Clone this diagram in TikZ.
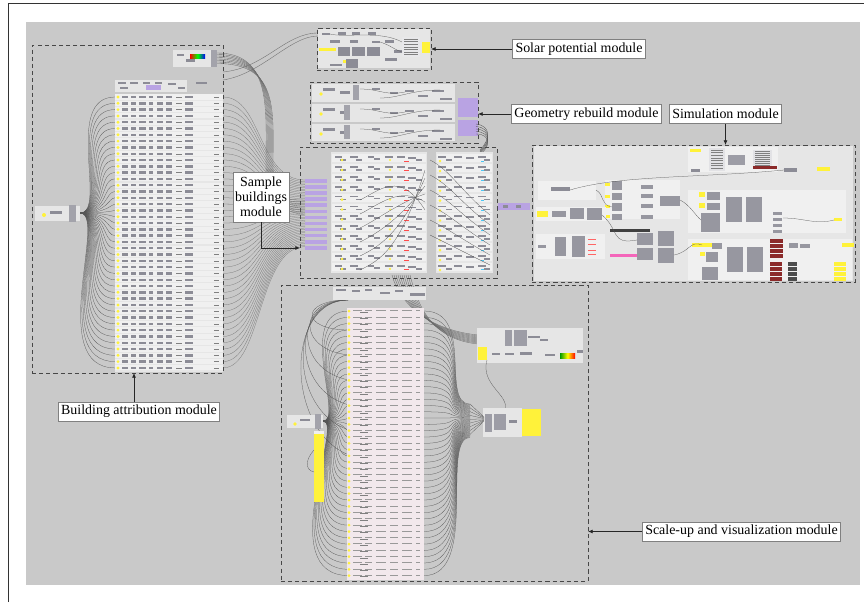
\documentclass[tikz,border=0pt]{standalone}
\usepackage{fontspec}
\setmainfont{Liberation Serif}
\usetikzlibrary{arrows.meta}
\newlength\pxu \setlength\pxu{0.03cm}
\definecolor{cv}{HTML}{C9C9C9}
\definecolor{pnl}{HTML}{E6E6E6}
\definecolor{pnlw}{HTML}{F0F0F0}
\definecolor{cmp}{HTML}{8C8C96}
\definecolor{pur}{HTML}{B9A3E3}
\definecolor{yel}{HTML}{FFF23A}
\definecolor{pink}{HTML}{F2E8EC}
\definecolor{wirec}{HTML}{555555}
\definecolor{dred}{HTML}{8B2A2A}
\definecolor{frm}{HTML}{333333}
\begin{document}
\begin{tikzpicture}[x=0.03cm,y=-0.03cm,
  panel/.style={fill=pnl},
  wpanel/.style={fill=pnlw},
  comp/.style={fill=cmp},
  wire/.style={draw=wirec,line width=0.22pt},
  bund/.style={draw=gray!85!black,line width=0.3pt},
  modbox/.style={draw=black!72,line width=0.8pt,dash pattern=on 3.5pt off 2.6pt,inner sep=0pt,outer sep=0pt},
  lbl/.style={draw=black!50,fill=white,line width=0.6pt,inner xsep=3\pxu,inner ysep=0pt,minimum height=19\pxu,
     font=\fontsize{11.9}{12.8}\selectfont,align=center},
  arr/.style={draw=black!85,line width=0.6pt,-{Latex[length=4pt,width=3.4pt]}}]
\useasboundingbox (0,0) rectangle (864,602);
\fill[white] (0,0) rectangle (864,602);
\draw[frm,line width=1.6pt] (8.5,602) -- (8.5,3.5) -- (864,3.5);
\fill[cv] (26,22) rectangle (860,585);

% ---------------- building attribution content
\foreach \k in {0,...,43}{
  \pgfmathsetmacro\y{97+6.3*\k}
  \pgfmathsetmacro\cx{115-0.45*abs(\y-213)}
  \draw[wire] (80,213) .. controls (108,213) and (\cx,\y) .. (115,\y);
  \pgfmathsetmacro\yt{180+1.55*\k}
  \draw[wire,draw=wirec!80] (223,\y) .. controls (262,\y) and (258,\yt) .. (305,\yt);
}
\fill[panel] (115,80) rectangle (187,92);
\foreach \a/\b/\c/\d in {118/82/126/84,130/82/138/84,143/82/150/84,155/82/162/84,168/83/176/85,120/87/128/89,148/86/160/90,178/87/185/89}{\fill[comp] (\a,\b) rectangle (\c,\d);}
\fill[pur] (146,85) rectangle (161,90);
\fill[comp] (196,82) rectangle (207,84);
\fill[panel] (115,94) rectangle (223,372);
\foreach \k in {0,...,43}{
  \pgfmathsetmacro\y{97+6.3*\k}
  \fill[pnlw] (115,\y-2.7) rectangle (223,\y+2.5);
  \fill[yel] (118,\y) circle (1.6);
  \foreach \a/\b in {122/128,131/136,139/146,149/153,157/163,166/172,185/193}{\fill[comp] (\a,\y-1.2) rectangle (\b,\y+1.2);}
  \draw[gray,line width=0.3pt] (176,\y) -- (182,\y) (214,\y) -- (219,\y);
}
% palette component
\fill[pnl] (173,50) rectangle (217,67);
\fill[comp] (177,54) rectangle (184,56);
\fill[comp] (186,59) rectangle (195,62);
\shade[left color=red,right color=blue,middle color=green] (190,54) rectangle (205,58);
\fill[cmp!80] (211,50) rectangle (217,67);
% left input
\fill[pnl] (35,206) rectangle (80,221);
\fill[yel] (44,215) circle (2);
\fill[comp] (50,211) rectangle (62,214);
\fill[cmp!80] (69,205) rectangle (76,222);

% bundle from palette to sample buildings
\foreach \k in {0,...,7}{
  \draw[bund] (217,53+1.5*\k) .. controls (272+\k,53+1.5*\k) and (266+\k,110) .. (266+\k,165)
     .. controls (266+\k,200) and (282,200+2*\k) .. (305,200+2*\k);
}
\draw[bund] (318,33) .. controls (285,33) and (265,68) .. (223,72);
\draw[bund] (318,36) .. controls (290,36) and (262,74) .. (223,80);

% ---------------- solar potential content
\fill[pnl] (318,29) rectangle (430,68);
\foreach \a/\b/\c/\d in {322/33/330/35,338/32/346/35,352/32/360/35,368/32/376/35,330/40/340/43,350/40/358/43,372/41/380/43,385/40/394/43,394/50/402/53,338/47/350/56,352/47/365/56,367/47/380/56,346/59/358/68,330/64/342/66,385/58/397/61}{\fill[comp] (\a,\b) rectangle (\c,\d);}
\fill[yel] (319,48) rectangle (336,50.5);
\fill[yel] (343,60) rectangle (346,63);
\fill[white!80!cmp] (402,37) rectangle (420,57);
\foreach \k in {0,...,6}{\draw[gray,line width=0.25pt] (404,39+2.6*\k) -- (418,39+2.6*\k);}
\fill[yel] (422,42) rectangle (430,53);
\draw[wire] (330,34) .. controls (345,38) and (380,30) .. (402,42);
\draw[wire] (380,42) .. controls (390,45) and (395,50) .. (402,52);

% ---------------- geometry rebuild content
\foreach \t/\b/\tb in {84/102/353,104/122/344,124/141/344}{
  \fill[panel] (312,\t) rectangle (455,\b);
  \fill[yel] (321,\t+10) circle (1.8);
  \fill[comp] (323,\t+4) rectangle (335,\t+7);
  \fill[comp] (340,\t+7) rectangle (350,\t+10);
  \fill[cmp!80] (\tb,\t+1) rectangle (\tb+6,\b-2);
  \foreach \a/\c/\o in {372/380/4,390/398/8,405/414/6,418/428/11,432/444/6,440/452/14}{\fill[comp] (\a,\t+\o) rectangle (\c,\t+\o+2);}
  \draw[wire] (360,\t+5) .. controls (380,\t+5) and (385,\t+12) .. (405,\t+8);
  \draw[wire] (380,\t+14) .. controls (400,\t+14) and (410,\t+6) .. (440,\t+6);
}
\fill[pur] (458,98) rectangle (478,117);
\fill[pur] (458,120) rectangle (478,136);
\foreach \k in {0,...,4}{\draw[wirec,line width=0.3pt] (476,124+2.5*\k) .. controls (492,126+2*\k) and (490,140+2*\k) .. (480,150+\k);}

% ---------------- sample buildings content
\fill[panel] (331,152) rectangle (427,273);
\fill[panel] (436,152) rectangle (493,273);
\foreach \k in {0,...,11}{
  \pgfmathsetmacro\y{156+9.9*\k}
  \fill[pnlw] (332,\y-2) rectangle (426,\y+6);
  \fill[pnlw] (437,\y-2) rectangle (492,\y+6);
  \foreach \a/\c/\o in {335/342/0,340/346/3,350/358/0,356/362/3,368/374/0,374/380/2,385/393/0,397/405/0,408/416/1,416/422/3,438/446/0,446/452/3,454/462/0,466/474/1,478/486/0,484/490/3}{\fill[comp] (\a,\y+\o) rectangle (\c,\y+\o+1.8);}
  \fill[yel] (342,\y+4) circle (1.4);
  \fill[yel] (390,\y+4) circle (1.2);
  \fill[yel] (440,\y+5) circle (1.4);
  \fill[red!70] (404,\y+4.5) rectangle (409,\y+5.2);
  \fill[cyan!70] (481,\y+4.5) rectangle (484,\y+5.5);
}
\foreach \k in {0,...,11}{\fill[pur] (305,179+6.1*\k) rectangle (327,182.5+6.1*\k);}
\foreach \k in {0,...,5}{\draw[wire] (430,160+15*\k) .. controls (450,170+15*\k) and (460,190+12*\k) .. (490,215+10*\k);}
\foreach \k in {0,...,5}{\draw[wire] (360,270-14*\k) .. controls (380,260-14*\k) and (400,250-16*\k) .. (425,170+8*\k);}
\fill[pur] (498,203) rectangle (530,210);
\fill[comp] (503,205) rectangle (508,208);
\fill[comp] (516,205) rectangle (521,208);

% ---------------- simulation content
\fill[pnl] (534,146) rectangle (853,281);
\fill[pnlw] (688,147) rectangle (778,172);
\fill[white!75!cmp] (709,148) rectangle (725,171);
\fill[cmp!85] (728,155) rectangle (745,165);
\fill[white!75!cmp] (753,150) rectangle (772,167);
\fill[dred] (753,166) rectangle (777,169);
\foreach \k in {0,...,7}{\draw[gray,line width=0.2pt] (711,150+2.6*\k) -- (723,150+2.6*\k) (755,151+2*\k) -- (770,151+2*\k);}
\fill[yel] (690,148.5) rectangle (701,152);
\fill[comp] (691,169) rectangle (700,172);
\fill[comp] (784,168) rectangle (797,172);
\fill[yel] (817,167) rectangle (830,171);
\fill[pnlw] (538,181) rectangle (596,200);
\fill[comp] (551,187) rectangle (570,191);
\fill[pnlw] (605,180) rectangle (680,219);
\foreach \a/\b/\c/\d in {612/181/622/190,612/193/622/200,612/203/622/211,612/214/622/220,641/185/653/189,641/194/653/198,641/204/653/208,641/215/653/219,660/196/680/206}{\fill[cmp!90] (\a,\b) rectangle (\c,\d);}
\foreach \y in {183,195,205,215}{\fill[yel] (605,\y) rectangle (610,\y+3);}
\fill[pnlw] (536,207) rectangle (606,221);
\fill[yel] (537,211) rectangle (548,217);
\foreach \a/\b/\c/\d in {552/211/566/217,570/208/584/219,587/208/602/220}{\fill[cmp!90] (\a,\b) rectangle (\c,\d);}
\fill[pnlw] (536,234) rectangle (605,259);
\foreach \a/\b/\c/\d in {555/237/566/256,572/236/585/257,538/245/546/248}{\fill[cmp!90] (\a,\b) rectangle (\c,\d);}
\foreach \y in {239,244,250,254}{\fill[red!60] (588,\y) rectangle (596,\y+1);}
\fill[black!75] (610,229) rectangle (650,232);
\fill[magenta!60] (610,254) rectangle (650,257);
\foreach \a/\b/\c/\d in {637/233/653/245,637/248/653/260,658/231/674/246,658/248/674/263}{\fill[cmp!90] (\a,\b) rectangle (\c,\d);}
\fill[pnlw] (688,190) rectangle (846,233);
\foreach \a/\b/\c/\d in {707/192/720/200,707/203/720/210,701/213/720/232,726/197/742/222,746/197/762/222,773/212/782/215,773/218/782/221,773/224/782/227,773/230/782/233}{\fill[cmp!90] (\a,\b) rectangle (\c,\d);}
\fill[yel] (699,192) rectangle (705,197);
\fill[yel] (699,203) rectangle (705,208);
\fill[yel] (834,218) rectangle (842,221);
\fill[pnlw] (688,239) rectangle (852,280);
\fill[yel] (692,243) rectangle (712,247);
\fill[yel] (700,252) rectangle (705,256);
\foreach \a/\b/\c/\d in {712/243/722/249,706/252/718/262,702/267/718/280,727/247/743/272,747/247/763/272,789/243/798/248,800/244/810/248}{\fill[cmp!90] (\a,\b) rectangle (\c,\d);}
\foreach \y in {239,244,249,254}{\fill[dred] (770,\y) rectangle (783,\y+3.5);}
\foreach \y in {262,267,272,277}{\fill[dred] (770,\y) rectangle (782,\y+3.5); \fill[black!70] (788,\y) rectangle (797,\y+3.5); \fill[yel] (834,\y) rectangle (846,\y+3.5);}
\fill[yel] (842,243) rectangle (854,247);
\draw[wire] (596,190) .. controls (605,195) and (600,205) .. (612,207);
\draw[wire] (570,190) .. controls (620,175) and (700,178) .. (784,170);
\draw[wire] (680,200) .. controls (690,205) and (695,215) .. (701,220);
\draw[wire] (674,255) .. controls (690,252) and (690,240) .. (702,245);
\draw[wire] (783,218) .. controls (805,218) and (815,225) .. (834,220);
\draw[wire] (602,215) .. controls (620,230) and (610,245) .. (637,240);

% ---------------- scale-up content
\foreach \k in {0,...,42}{
  \pgfmathsetmacro\y{311+6.3*\k}
  \pgfmathsetmacro\cx{349-0.5*abs(\y-421)}
  \draw[wire] (323,421) .. controls (345,421) and (\cx,\y) .. (349,\y);
  \pgfmathsetmacro\ex{424+40+0.1*abs(\y-421)}
  \pgfmathsetmacro\ye{404+0.8*\k}
  \draw[wire] (424,\y) .. controls (\ex,\y) and (440,\ye) .. (470,\ye);
}
\foreach \k in {0,...,5}{\draw[wire] (348,300) .. controls (300-3*\k,300) and (300-3*\k,330+20*\k) .. (349,330+25*\k);}
\foreach \k in {0,...,9}{\draw[bund] (392+2*\k,275) .. controls (400+2*\k,305) and (430,330+\k) .. (478,335+\k);}
\fill[pnl] (333,287) rectangle (426,300);
\foreach \a/\b/\c/\d in {336/289/346/291,352/290/360/292,365/289/372/291,380/292/390/294,395/290/403/292,410/293/425/296}{\fill[comp] (\a,\b) rectangle (\c,\d);}
\fill[pink] (347,308) rectangle (424,580);
\foreach \k in {0,...,42}{
  \pgfmathsetmacro\y{311+6.3*\k}
  \fill[yel] (349,\y) circle (1.5);
  \foreach \a/\c in {353/362,365/372,376/386,390/398,402/412,416/420}{\draw[gray!80,line width=0.35pt] (\a,\y-0.5) -- (\c,\y-0.5);}
  \draw[gray,line width=0.2pt] (360,\y+1) -- (368,\y+1);
}
\fill[pnl] (287,415) rectangle (323,428);
\fill[yel] (295,424) circle (1.8);
\fill[comp] (300,419) rectangle (310,421);
\fill[cmp!80] (315,414) rectangle (321,429);
\fill[pnlw] (314,431) rectangle (324,434);
\fill[yel] (314,434) rectangle (324,502);
\draw[wire] (314,450) .. controls (305,460) and (305,470) .. (314,472);
\fill[pnl] (477,328) rectangle (583,363);
\fill[yel] (478,347) rectangle (487,360);
\fill[cmp!85] (505,330) rectangle (512,346);
\fill[cmp!85] (514,330) rectangle (527,346);
\foreach \a/\b/\c/\d in {528/336/540/338,540/339/548/341,492/353/500/355,505/353/514/355,520/352/532/355,545/354/555/356}{\fill[comp] (\a,\b) rectangle (\c,\d);}
\shade[left color=green!60!black,right color=red,middle color=yellow] (560,353) rectangle (575,358);
\fill[comp] (577,350) rectangle (583,353);
\draw[wire] (487,360) .. controls (480,385) and (510,395) .. (505,410);
\fill[pnl] (483,408) rectangle (522,437);
\fill[cmp!85] (485,414) rectangle (492,432);
\fill[cmp!85] (494,414) rectangle (506,430);
\fill[comp] (509,420) rectangle (517,423);
\fill[yel] (522,409) rectangle (541,436);
\foreach \k in {0,...,8}{\draw[wire] (470,404+3.8*\k) -- (484,417+0.5*\k);}

% ---------------- module frames
\node[modbox,minimum width=191\pxu,minimum height=328\pxu] (ba) at (127.5,209) {};
\node[modbox,minimum width=114\pxu,minimum height=42\pxu] (sp) at (374,49) {};
\node[modbox,minimum width=168\pxu,minimum height=61\pxu] (gr) at (394,112.5) {};
\node[modbox,minimum width=323\pxu,minimum height=137\pxu] (sim) at (693.5,213.5) {};
\node[modbox,minimum width=197\pxu,minimum height=131\pxu] (sb) at (398.5,212.5) {};
\node[modbox,minimum width=307\pxu,minimum height=296\pxu] (su) at (434.5,433) {};

% ---------------- labels
\node[lbl] (lsp) at (579,49) {Solar potential module};
\node[lbl] (lgr) at (586.5,114) {Geometry rebuild module};
\node[lbl] (lsim) at (725.5,114) {Simulation module};
\node[lbl,minimum height=50\pxu,inner xsep=2\pxu] (lsb) at (261,197) {Sample\\buildings\\module};
\node[lbl] (lba) at (139,411.5) {Building attribution module};
\node[lbl] (lsu) at (741.5,531.5) {Scale-up and visualization module};
\coordinate (sbin) at (300,248);

\draw[arr] (lsp.west) -- (lsp.west -| sp.east);
\draw[arr] (lgr.west) -- (lgr.west -| gr.east);
\draw[arr] (lsim.south) -- (lsim.south |- sim.north);
\draw[arr] (lsb.south) |- (sbin);
\draw[arr] ([xshift=-5\pxu]lba.north) -- ([xshift=-5\pxu]lba.north |- ba.south);
\draw[arr] (lsu.west) -- (lsu.west -| su.east);
\end{tikzpicture}
\end{document}
